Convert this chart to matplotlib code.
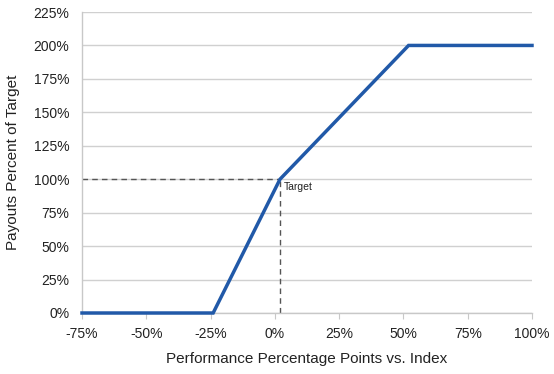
import matplotlib
matplotlib.use("Agg")
import matplotlib.pyplot as plt
from matplotlib.ticker import FuncFormatter

plt.rcParams['font.family'] = ['Liberation Sans', 'DejaVu Sans']

perf = [-75, -24, 2, 52, 100]
payout = [0, 0, 100, 200, 200]
target_x = 2
target_y = 100
x_ticks = [-75, -50, -25, 0, 25, 50, 75, 100]
y_ticks = [0, 25, 50, 75, 100, 125, 150, 175, 200, 225]

fig = plt.figure(figsize=(5.54, 3.74), dpi=100)
ax = fig.add_axes([82/554, 1-313/374, (532-82)/554, (313-12)/374])

ax.set_xlim(-75, 100)
ax.set_ylim(0, 225)
ax.set_xticks(x_ticks)
ax.set_yticks(y_ticks)
pct = FuncFormatter(lambda v, p: f"{int(v)}%")
ax.xaxis.set_major_formatter(pct)
ax.yaxis.set_major_formatter(pct)

ax.grid(axis='y', color='#d0d0d0', linewidth=1)
ax.set_axisbelow(True)
for s in ['top', 'right']:
    ax.spines[s].set_visible(False)
for s in ['left', 'bottom']:
    ax.spines[s].set_color('#c8c8c8')
    ax.spines[s].set_linewidth(1)
ax.tick_params(axis='x', direction='out', length=4, color='#c8c8c8', labelsize=10, pad=6, labelcolor='#222222')
ax.tick_params(axis='y', length=0, labelsize=10, pad=9, labelcolor='#222222')

ax.plot([-75, target_x], [target_y, target_y], ls=(0, (4, 3)), color='#555555', lw=1, clip_on=False)
ax.plot([target_x, target_x], [0, target_y], ls=(0, (4, 3)), color='#555555', lw=1)
ax.plot(perf, payout, color='#2159a8', lw=2.5, solid_joinstyle='miter', clip_on=False, zorder=5)
ax.text(target_x + 1.5, target_y - 2, 'Target', fontsize=7.5, va='top', ha='left', color='#222222')

ax.set_xlabel('Performance Percentage Points vs. Index', fontsize=11, labelpad=8, color='#222222')
ax.set_ylabel('Payouts Percent of Target', fontsize=11, labelpad=10, color='#222222')

fig.savefig('out.png', dpi=100)
